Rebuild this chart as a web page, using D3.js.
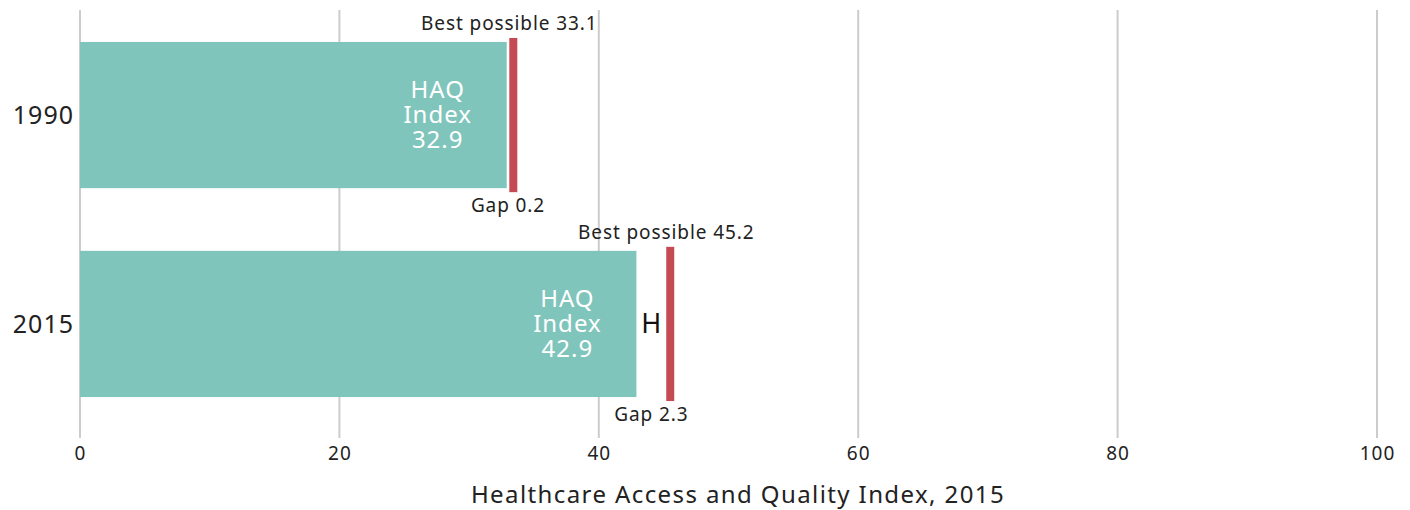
<!DOCTYPE html>
<html>
<head>
<meta charset="utf-8">
<script src="https://cdn.jsdelivr.net/npm/d3@7"></script>
<style>
  body { margin: 0; background: #fff; }
  text { font-family: "Noto Sans", "Open Sans", sans-serif; }
</style>
</head>
<body>
<div id="chart"></div>
<script>
// values
var years = ["1990", "2015"];
var haqValues = [32.9, 42.9];
var bestPossible = [33.1, 45.2];
var gapValues = [0.2, 2.3];
var xTicks = [0, 20, 40, 60, 80, 100];

var width = 1410, height = 510;
var teal = "#80c5bc", red = "#c44a53";

var svg = d3.select("#chart").append("svg")
    .attr("width", width)
    .attr("height", height);

var x = d3.scaleLinear().domain([0, 100]).range([80, 1377]);
var y = d3.scaleBand().domain(years).range([10, 429])
    .paddingInner(0.3).paddingOuter(0.153);

// gridlines
svg.append("g").selectAll("line")
    .data(xTicks)
    .enter().append("line")
    .attr("x1", function(d) { return x(d); })
    .attr("x2", function(d) { return x(d); })
    .attr("y1", 10)
    .attr("y2", 438)
    .attr("stroke", "#cccccc")
    .attr("stroke-width", 2);

// tick labels
svg.append("g").selectAll("text")
    .data(xTicks)
    .enter().append("text")
    .attr("x", function(d) { return x(d) + 0.5; })
    .attr("y", 460)
    .attr("text-anchor", "middle")
    .style("font-size", "19px")
    .style("letter-spacing", "1px")
    .style("fill", "#222")
    .text(function(d) { return d; });

svg.append("text")
    .attr("x", 738)
    .attr("y", 503)
    .attr("text-anchor", "middle")
    .style("font-size", "24px")
    .style("letter-spacing", "1.4px")
    .style("fill", "#222")
    .text("Healthcare Access and Quality Index, 2015");

var rows = years.map(function(yr, i) {
    return { year: yr, haq: haqValues[i], best: bestPossible[i], gap: gapValues[i] };
});

var g = svg.append("g").selectAll("g")
    .data(rows)
    .enter().append("g");

// year labels
g.append("text")
    .attr("x", 74)
    .attr("y", function(d) { return y(d.year) + y.bandwidth() / 2; })
    .attr("dy", "0.35em")
    .attr("text-anchor", "end")
    .style("font-size", "25px")
    .style("letter-spacing", "1px")
    .style("fill", "#222")
    .text(function(d) { return d.year; });

// HAQ bars
g.append("rect")
    .attr("x", x(0))
    .attr("y", function(d) { return y(d.year); })
    .attr("width", function(d) { return x(d.haq) - x(0); })
    .attr("height", y.bandwidth())
    .attr("fill", teal);

// best possible marker
g.append("rect")
    .attr("x", function(d) { return x(d.best); })
    .attr("y", function(d) { return y(d.year) - 4; })
    .attr("width", 8)
    .attr("height", y.bandwidth() + 8)
    .attr("fill", red);

// in-bar label
var lab = g.append("text")
    .attr("text-anchor", "middle")
    .style("font-size", "24px")
    .style("letter-spacing", "1px")
    .style("fill", "#fff");
lab.each(function(d) {
    var t = d3.select(this);
    var cx = x(d.haq) - 69;
    var cy = y(d.year) + y.bandwidth() / 2;
    ["HAQ", "Index", d.haq.toFixed(1)].forEach(function(s, k) {
        t.append("tspan")
            .attr("x", cx)
            .attr("y", cy + (k - 1) * 25)
            .attr("dy", "0.35em")
            .text(s);
    });
});

// best possible label
g.append("text")
    .attr("x", function(d) { return x(d.best); })
    .attr("y", function(d) { return y(d.year) - 12; })
    .attr("text-anchor", "middle")
    .style("font-size", "19px")
    .style("letter-spacing", "0.9px")
    .style("fill", "#222")
    .text(function(d) { return "Best possible " + d.best.toFixed(1); });

// gap label
g.append("text")
    .attr("x", function(d) { return (x(d.haq) + x(d.best)) / 2; })
    .attr("y", function(d) { return y(d.year) + y.bandwidth() + 24; })
    .attr("text-anchor", "middle")
    .style("font-size", "19px")
    .style("letter-spacing", "0.9px")
    .style("fill", "#222")
    .text(function(d) { return "Gap " + d.gap.toFixed(1); });

// gap bracket, only where the gap is wide enough
g.filter(function(d) { return x(d.best) - x(d.haq) > 20; })
    .append("text")
    .attr("x", function(d) { return (x(d.haq) + x(d.best)) / 2; })
    .attr("y", function(d) { return y(d.year) + y.bandwidth() / 2; })
    .attr("dy", "0.35em")
    .attr("text-anchor", "middle")
    .style("font-size", "27px")
    .style("fill", "#111")
    .text("H");
</script>
</body>
</html>
